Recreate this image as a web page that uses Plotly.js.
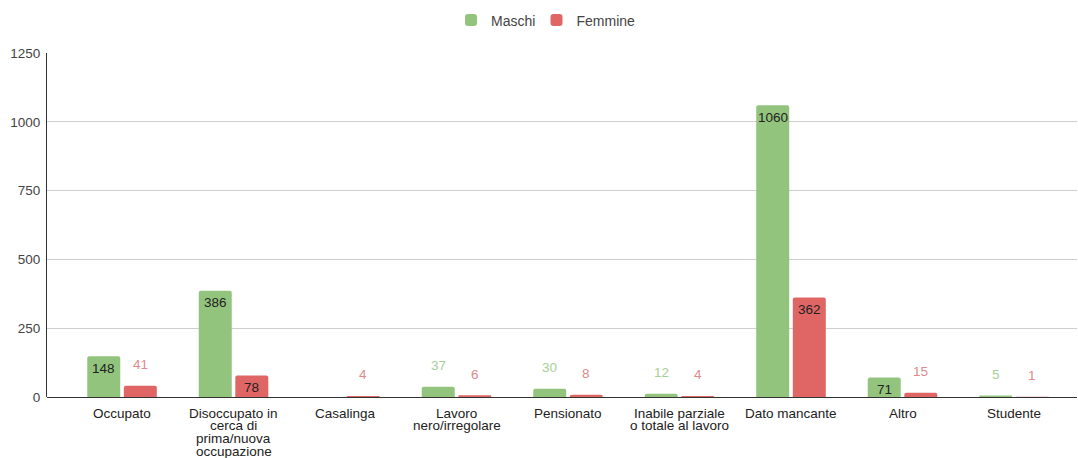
<!DOCTYPE html>
<html>
<head>
<meta charset="utf-8">
<script src="https://cdn.plot.ly/plotly-3.0.1.min.js"></script>
<style>
  html, body { margin: 0; padding: 0; background: #fff; }
  #chart { width: 1078px; height: 458px; }
</style>
</head>
<body>
<div id="chart"></div>
<script>
// Condizione professionale, per sesso
const categories = [
  'Occupato',
  'Disoccupato in\ncerca di\nprima/nuova\noccupazione',
  'Casalinga',
  'Lavoro\nnero/irregolare',
  'Pensionato',
  'Inabile parziale\no totale al lavoro',
  'Dato mancante',
  'Altro',
  'Studente'
];
const maschi  = [148, 386, null, 37, 30, 12, 1060, 71, 5];
const femmine = [41, 78, 4, 6, 8, 4, 362, 15, 1];
const yTicks = [0, 250, 500, 750, 1000, 1250];

const seriesNames = ['Maschi', 'Femmine'];
const barColors = ['#93c47d', '#e06666'];
const labelColorsOutside = ['#a7cf96', '#e08a8a'];
const labelColorInside = '#222222';

const FONT = 'Arial, "Liberation Sans", sans-serif';
const plotTop = 53, plotBottom = 397;
const yMax = 1250;
const pxPerUnit = (plotBottom - plotTop) / yMax;
const bargap = 0.344;
const slotOffset = (1 - bargap) / 4;

const idx = categories.map((_, i) => i);

const traces = [maschi, femmine].map((vals, s) => ({
  type: 'bar',
  name: seriesNames[s],
  legend: s === 0 ? 'legend' : 'legend2',
  x: idx,
  y: vals,
  marker: { color: barColors[s], cornerradius: 2, line: { width: 0 } },
  hoverinfo: 'skip'
}));

const annotations = [];

// value labels: inside near the top for tall bars, above the bar otherwise
[maschi, femmine].forEach((vals, s) => {
  vals.forEach((v, i) => {
    if (v === null || v === undefined) return;
    const inside = v * pxPerUnit >= 18;
    annotations.push({
      x: i + (s === 0 ? -slotOffset : slotOffset),
      y: v,
      xref: 'x', yref: 'y',
      text: String(v),
      showarrow: false,
      xanchor: 'center',
      yanchor: 'middle',
      yshift: inside ? -12 : 21,
      font: { family: FONT, size: 13.5, color: inside ? labelColorInside : labelColorsOutside[s] }
    });
  });
});

// category labels under the axis, one line at a time for tight line spacing
categories.forEach((label, i) => {
  label.split('\n').forEach((line, k) => {
    annotations.push({
      x: i, y: 0,
      xref: 'x', yref: 'y',
      text: line,
      showarrow: false,
      xanchor: 'center',
      yanchor: 'middle',
      yshift: -(16 + k * 12.7),
      font: { family: FONT, size: 13.5, color: '#222' }
    });
  });
});

const legendBase = {
  orientation: 'h',
  xanchor: 'left',
  y: (plotBottom - 20.5) / (plotBottom - plotTop),
  yanchor: 'middle',
  font: { family: FONT, size: 14, color: '#444' },
  bgcolor: 'rgba(0,0,0,0)'
};

const layout = {
  width: 1078,
  height: 458,
  margin: { l: 47, r: 1, t: plotTop, b: 458 - plotBottom, pad: 0 },
  paper_bgcolor: '#fff',
  plot_bgcolor: '#fff',
  font: { family: FONT, size: 13.5, color: '#444' },
  barmode: 'group',
  bargap: bargap,
  bargroupgap: 0.098,
  showlegend: true,
  legend: Object.assign({}, legendBase, { x: (451 - 47) / 1030 }),
  legend2: Object.assign({}, legendBase, { x: (536.5 - 47) / 1030 }),
  xaxis: {
    type: 'linear',
    range: [-0.673, 8.565],
    showticklabels: false,
    showgrid: false,
    zeroline: false,
    showline: false,
    ticks: '',
    fixedrange: true
  },
  yaxis: {
    range: [0, yMax],
    tickmode: 'array',
    tickvals: yTicks,
    ticktext: yTicks.map(String),
    showgrid: true,
    gridcolor: '#cfcfcf',
    gridwidth: 1,
    zeroline: true,
    zerolinecolor: '#333',
    zerolinewidth: 1,
    showline: true,
    linecolor: '#333',
    linewidth: 1,
    ticks: '',
    ticklabelstandoff: 3,
    tickfont: { family: FONT, size: 13.5, color: '#444' },
    fixedrange: true
  },
  annotations: annotations
};

Plotly.newPlot('chart', traces, layout, { displayModeBar: false, staticPlot: true });
</script>
</body>
</html>
